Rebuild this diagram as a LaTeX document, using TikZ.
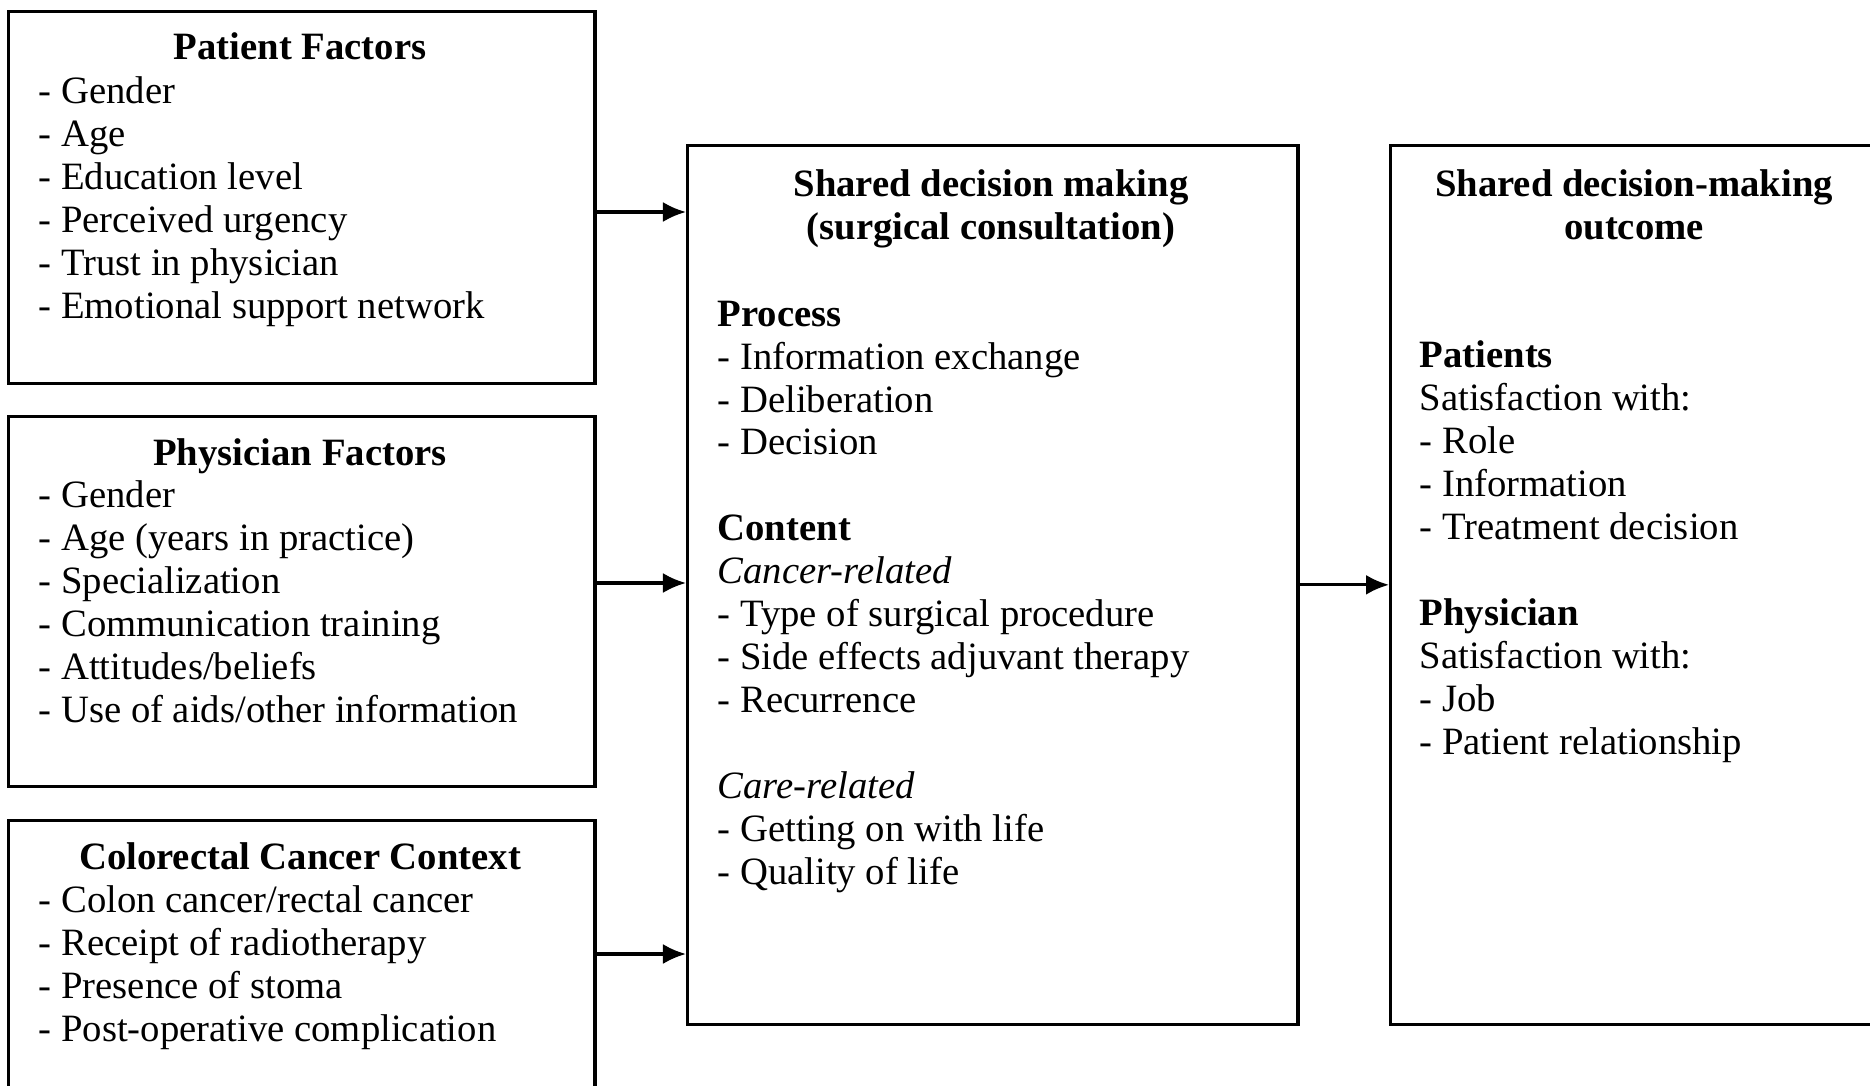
\documentclass[tikz,border=0pt]{standalone}
\usepackage{fontspec}
\setmainfont{Liberation Serif}
\usetikzlibrary{arrows.meta}

\tikzset{
  box/.style={draw, line width=0.9pt, anchor=north west, inner sep=0pt},
  head/.style={anchor=base, font=\fontsize{11}{12.2}\selectfont\bfseries, align=center, inner sep=0pt},
  list/.style={anchor=base west, font=\fontsize{11}{12.2}\selectfont, align=left, inner sep=0pt},
  arr/.style={line width=0.9pt, -{Latex[length=0.23cm,width=0.2cm]}}
}

\begin{document}
\begin{tikzpicture}[x=0.01cm, y=-0.01cm]
	\useasboundingbox (0,0) rectangle (1870,1085);
	\clip (0,0) rectangle (1870,1085);
	% factor boxes on the left
	\node[box, minimum width=5.86cm, minimum height=3.72cm] (pat) at (7,10) {};
	\node[box, minimum width=5.86cm, minimum height=3.70cm] (phy) at (7,415) {};
	\node[box, minimum width=5.86cm, minimum height=4.20cm] (ctx) at (7,819) {};
	% decision making and outcome
	\node[box, minimum width=6.10cm, minimum height=8.78cm] (sdm) at (686,144) {};
	\node[box, minimum width=4.90cm, minimum height=8.78cm] (out) at (1389,144) {};

	% text, placed by the baseline of its last line
	\node[head] (pattitle) at (300,60) {Patient Factors};
	\node[list] (patlist) at (38,318) {- Gender\\- Age\\- Education level\\- Perceived urgency\\- Trust in physician\\- Emotional support network};

	\node[head] (phytitle) at (300,465) {Physician Factors};
	\node[list] (phylist) at (38,722) {- Gender\\- Age (years in practice)\\- Specialization\\- Communication training\\- Attitudes/beliefs\\- Use of aids/other information};

	\node[head] (ctxtitle) at (300,869) {Colorectal Cancer Context};
	\node[list] (ctxlist) at (38,1041) {- Colon cancer/rectal cancer\\- Receipt of radiotherapy\\- Presence of stoma\\- Post-operative complication};

	\node[head] (sdmtitle) at (991,239) {Shared decision making\\(surgical consultation)};
	\node[list] (sdmlist) at (717,884) {\textbf{Process}\\- Information exchange\\- Deliberation\\- Decision\\[\baselineskip]
		\textbf{Content}\\\textit{Cancer-related}\\- Type of surgical procedure\\- Side effects adjuvant therapy\\- Recurrence\\[\baselineskip]
		\textit{Care-related}\\- Getting on with life\\- Quality of life};

	\node[head] (outtitle) at (1634,239) {Shared decision-making\\outcome};
	\node[list] (outlist) at (1419,754) {\textbf{Patients}\\Satisfaction with:\\- Role\\- Information\\- Treatment decision\\[\baselineskip]
		\textbf{Physician}\\Satisfaction with:\\- Job\\- Patient relationship};

	% arrows
	\coordinate (y1) at (0,212);
	\coordinate (y2) at (0,583);
	\coordinate (y3) at (0,954);
	\draw[arr] (pat.east |- y1) -- (sdm.west |- y1);
	\draw[arr] (phy.east |- y2) -- (sdm.west |- y2);
	\draw[arr] (ctx.east |- y3) -- (sdm.west |- y3);
	\draw[arr] (sdm.east) -- (sdm.east -| out.west);
\end{tikzpicture}
\end{document}
